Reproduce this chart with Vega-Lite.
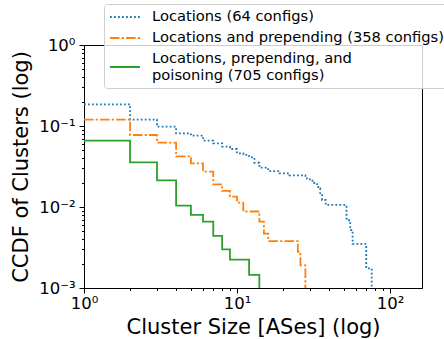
{
  "$schema": "https://vega.github.io/schema/vega-lite/v6.json",
  "width": 338,
  "height": 243,
  "autosize": "none",
  "padding": {"left": 84, "top": 45, "right": 22, "bottom": 51},
  "config": {
    "view": {"stroke": "#000000", "strokeWidth": 1},
    "font": "DejaVu Sans"
  },
  "data": {
    "values": [
      {"series": "loc", "size": 1, "ccdf": 0.185},
      {"series": "loc", "size": 2, "ccdf": 0.12},
      {"series": "loc", "size": 3, "ccdf": 0.098},
      {"series": "loc", "size": 4, "ccdf": 0.081},
      {"series": "loc", "size": 5, "ccdf": 0.0759},
      {"series": "loc", "size": 6, "ccdf": 0.0659},
      {"series": "loc", "size": 7, "ccdf": 0.061},
      {"series": "loc", "size": 8, "ccdf": 0.0555},
      {"series": "loc", "size": 9, "ccdf": 0.052},
      {"series": "loc", "size": 10, "ccdf": 0.046},
      {"series": "loc", "size": 11, "ccdf": 0.0439},
      {"series": "loc", "size": 12, "ccdf": 0.041},
      {"series": "loc", "size": 13, "ccdf": 0.0352},
      {"series": "loc", "size": 14, "ccdf": 0.0306},
      {"series": "loc", "size": 16, "ccdf": 0.0278},
      {"series": "loc", "size": 19, "ccdf": 0.026},
      {"series": "loc", "size": 22, "ccdf": 0.0246},
      {"series": "loc", "size": 28, "ccdf": 0.0226},
      {"series": "loc", "size": 30, "ccdf": 0.0211},
      {"series": "loc", "size": 32, "ccdf": 0.0192},
      {"series": "loc", "size": 34, "ccdf": 0.017},
      {"series": "loc", "size": 35, "ccdf": 0.0148},
      {"series": "loc", "size": 36, "ccdf": 0.0122},
      {"series": "loc", "size": 38, "ccdf": 0.0106},
      {"series": "loc", "size": 52, "ccdf": 0.0072},
      {"series": "loc", "size": 54, "ccdf": 0.0066},
      {"series": "loc", "size": 55, "ccdf": 0.0052},
      {"series": "loc", "size": 57, "ccdf": 0.0035},
      {"series": "loc", "size": 70, "ccdf": 0.00175},
      {"series": "loc", "size": 76, "ccdf": 0.0008},
      {"series": "pre", "size": 1, "ccdf": 0.12},
      {"series": "pre", "size": 2, "ccdf": 0.0774},
      {"series": "pre", "size": 3, "ccdf": 0.0622},
      {"series": "pre", "size": 4, "ccdf": 0.0422},
      {"series": "pre", "size": 5, "ccdf": 0.0346},
      {"series": "pre", "size": 6, "ccdf": 0.0273},
      {"series": "pre", "size": 7, "ccdf": 0.019},
      {"series": "pre", "size": 8, "ccdf": 0.0158},
      {"series": "pre", "size": 9, "ccdf": 0.0134},
      {"series": "pre", "size": 10, "ccdf": 0.0113},
      {"series": "pre", "size": 11, "ccdf": 0.0088},
      {"series": "pre", "size": 14, "ccdf": 0.0066},
      {"series": "pre", "size": 15, "ccdf": 0.0047},
      {"series": "pre", "size": 16, "ccdf": 0.0038},
      {"series": "pre", "size": 25, "ccdf": 0.0028},
      {"series": "pre", "size": 26, "ccdf": 0.0019},
      {"series": "pre", "size": 28, "ccdf": 0.0008},
      {"series": "poi", "size": 1, "ccdf": 0.0659},
      {"series": "poi", "size": 2, "ccdf": 0.0356},
      {"series": "poi", "size": 3, "ccdf": 0.0213},
      {"series": "poi", "size": 4, "ccdf": 0.0104},
      {"series": "poi", "size": 5, "ccdf": 0.008},
      {"series": "poi", "size": 6, "ccdf": 0.0066},
      {"series": "poi", "size": 7, "ccdf": 0.0044},
      {"series": "poi", "size": 8, "ccdf": 0.003},
      {"series": "poi", "size": 9, "ccdf": 0.00224},
      {"series": "poi", "size": 12, "ccdf": 0.00145},
      {"series": "poi", "size": 14, "ccdf": 0.0008}
    ]
  },
  "mark": {"type": "line", "interpolate": "step-after", "clip": true, "strokeWidth": 1.8},
  "encoding": {
    "x": {
      "field": "size",
      "type": "quantitative",
      "scale": {"type": "log", "domain": [1, 162], "nice": false},
      "axis": {
        "values": [1, 2, 3, 4, 5, 6, 7, 8, 9, 10, 20, 30, 40, 50, 60, 70, 80, 90, 100],
        "labelExpr": "datum.value == 1 ? '10⁰' : datum.value == 10 ? '10¹' : datum.value == 100 ? '10²' : ''",
        "tickSize": {"condition": {"test": "indexof([1, 10, 100], datum.value) >= 0", "value": 5}, "value": 2.5},
        "tickColor": "#000000",
        "tickWidth": 1,
        "domainColor": "#000000",
        "grid": false,
        "labelFontSize": 16.5,
        "labelColor": "#000000",
        "labelPadding": 2,
        "labelOverlap": false,
        "labelFlush": false,
        "title": "Cluster Size [ASes] (log)",
        "titleFontSize": 21,
        "titleFontWeight": "normal",
        "titleColor": "#000000",
        "titleBaseline": "alphabetic",
        "titleY": 45,
        "titleX": 169
      }
    },
    "y": {
      "field": "ccdf",
      "type": "quantitative",
      "scale": {"type": "log", "domain": [0.001, 1], "nice": false},
      "axis": {
        "values": [0.001, 0.002, 0.003, 0.004, 0.005, 0.006, 0.007, 0.008, 0.009, 0.01, 0.02, 0.03, 0.04, 0.05, 0.06, 0.07, 0.08, 0.09, 0.1, 0.2, 0.3, 0.4, 0.5, 0.6, 0.7, 0.8, 0.9, 1],
        "labelExpr": "datum.value == 1 ? '10⁰' : datum.value == 0.1 ? '10⁻¹' : datum.value == 0.01 ? '10⁻²' : datum.value == 0.001 ? '10⁻³' : ''",
        "tickSize": {"condition": {"test": "indexof([0.001, 0.01, 0.1, 1], datum.value) >= 0", "value": 5}, "value": 2.5},
        "tickColor": "#000000",
        "tickWidth": 1,
        "domainColor": "#000000",
        "grid": false,
        "labelFontSize": 16.5,
        "labelColor": "#000000",
        "labelPadding": 4,
        "labelOverlap": false,
        "labelFlush": false,
        "title": "CCDF of Clusters (log)",
        "titleFontSize": 21,
        "titleFontWeight": "normal",
        "titleColor": "#000000",
        "titleBaseline": "alphabetic",
        "titleAngle": -90,
        "titleX": -57,
        "titleY": 121.5
      }
    },
    "color": {
      "field": "series",
      "type": "nominal",
      "scale": {"domain": ["loc", "pre", "poi"], "range": ["#1f77b4", "#ff7f0e", "#2ca02c"]},
      "legend": {
        "orient": "none",
        "legendX": 20,
        "legendY": -41,
        "title": null,
        "labelExpr": "datum.value == 'loc' ? 'Locations (64 configs)' : datum.value == 'pre' ? 'Locations and prepending (358 configs)' : ['Locations, prepending, and', 'poisoning (705 configs)']",
        "labelFont": "DejaVu Sans",
        "labelFontSize": 14.7,
        "labelColor": "#000000",
        "labelLimit": 500,
        "labelOffset": 11,
        "symbolType": "stroke",
        "symbolSize": 900,
        "symbolStrokeWidth": 1.8,
        "clipHeight": 16,
        "rowPadding": 5,
        "padding": 5,
        "strokeColor": "#d0d0d0",
        "fillColor": "rgba(255,255,255,0.8)",
        "cornerRadius": 3,
        "encode": {
          "labels": {
            "update": {
              "dy": {"signal": "datum.value === 'poi' ? -8 : 0"},
              "lineHeight": {"value": 16.5}
            }
          }
        }
      }
    },
    "strokeDash": {
      "field": "series",
      "type": "nominal",
      "scale": {"domain": ["loc", "pre", "poi"], "range": [[1.8, 2.2], [9.5, 2.2, 2.2, 2.2], [1, 0]]},
      "legend": null
    }
  }
}
